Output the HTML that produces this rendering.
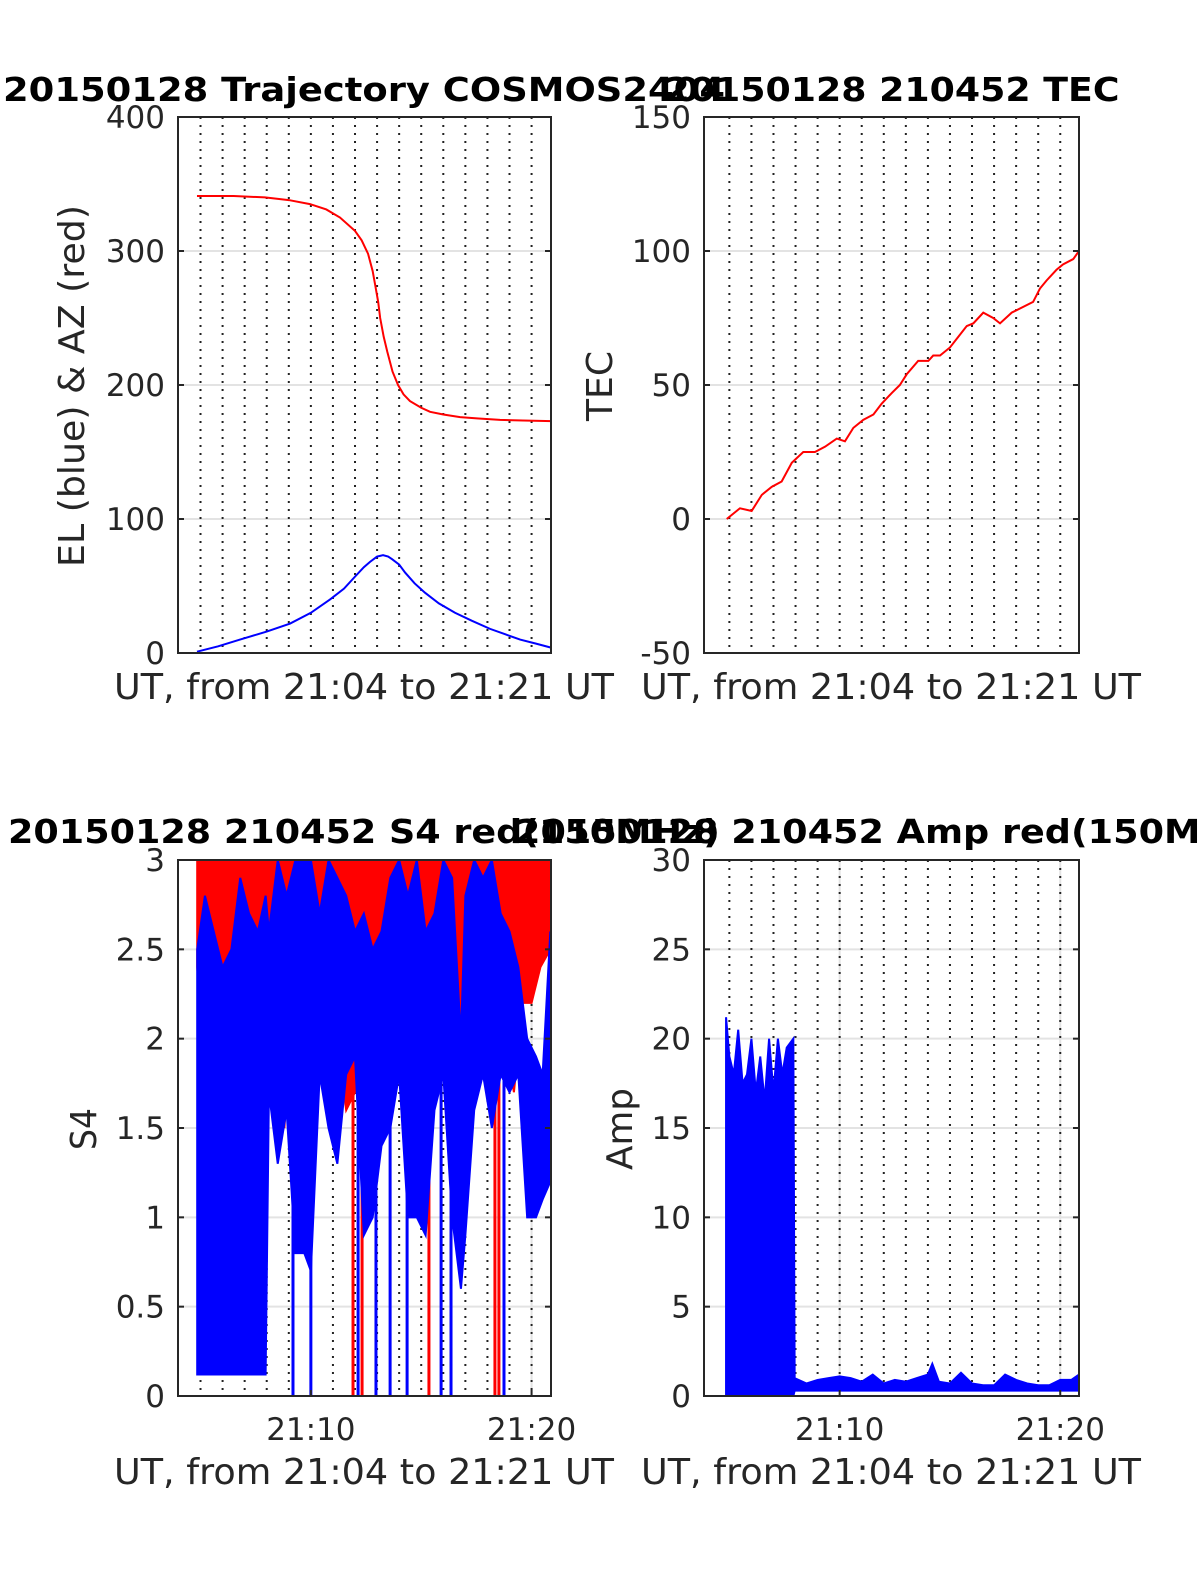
<!DOCTYPE html>
<html><head><meta charset="utf-8"><style>
html,body{margin:0;padding:0;background:#fff}
svg{display:block}
text{font-family:"DejaVu Sans","Liberation Sans",sans-serif;fill:#262626}
</style></head><body>
<svg id="fig" width="1200" height="1575" viewBox="0 0 1200 1575" xmlns="http://www.w3.org/2000/svg"></svg>
<script>
// ---- data (time in minutes after 21:00 UT) ----
const azT = [4.84,6.5,7.92,9.0,9.96,10.7,11.32,12.0,12.3,12.59,12.8,12.91,13.05,13.14,13.3,13.46,13.7,13.95,14.2,14.49,15.0,15.4,16.0,16.76,17.6,18.57,19.6,20.88];
const azV = [341,341,340,338,335,331,325,315,308,298,285,275,262,250,236,225,210,200,193,188,183,180,178,176,175,174,173.5,173];
const elT = [4.84,5.8,6.79,8.0,9.06,10.0,10.87,11.5,12.0,12.4,12.68,13.0,13.27,13.5,13.68,14.0,14.27,14.7,15.17,15.8,16.53,17.3,18.12,18.8,19.48,20.2,20.88];
const elV = [1,5,10,16,22,30,40,48,57,64,68,72,73,72,70,66,60,52,45,37,30,24,18,14,10,7,4];
const tecT = [4.88,5.18,5.48,6.01,6.47,6.92,7.37,7.83,8.35,8.88,9.34,9.87,10.24,10.62,11.07,11.53,11.9,12.36,12.73,13.04,13.56,14.02,14.24,14.55,15.0,15.38,15.76,16.06,16.51,16.96,17.27,17.8,18.77,19.08,19.38,19.83,20.13,20.59,20.85];
const tecV = [0,2,4,3,9,12,14,21,25,25,27,30,29,34,37,39,43,47,50,54,59,59,61,61,64,68,72,73,77,75,73,77,81,86,89,93,95,97,100];
const s4BlueT  = [4.85,5.2,5.6,6.0,6.4,6.8,7.2,7.6,7.95,8.1,8.5,8.9,9.3,9.7,10.0,10.4,10.8,11.2,11.6,12.0,12.4,12.8,13.2,13.6,14.0,14.4,14.8,15.2,15.6,16.0,16.4,16.8,17.0,17.4,17.8,18.2,18.6,19.0,19.4,19.8,20.2,20.5,20.85];
const s4BlueLo = [0.12,0.12,0.12,0.12,0.12,0.12,0.12,0.12,0.12,1.7,1.3,1.6,0.8,0.8,0.7,1.8,1.5,1.3,1.8,1.9,0.9,1.0,1.4,1.5,1.8,1.0,1.0,0.9,1.6,1.8,1.0,0.6,0.9,1.6,1.8,1.5,1.8,1.7,1.8,1.0,1.0,1.1,1.2];
const s4BlueHi = [2.5,2.8,2.6,2.4,2.5,2.9,2.7,2.6,2.8,2.6,3,2.8,3,3,3,2.7,3,2.9,2.8,2.6,2.7,2.5,2.6,2.9,3,2.8,3,2.6,2.7,3,2.9,2.0,2.8,3,2.9,3,2.7,2.6,2.4,2.0,1.9,1.8,2.6];
const s4RedT  = [4.85,5.2,5.6,6.0,6.4,6.8,7.2,7.6,8.0,8.4,8.8,9.2,9.6,10.0,10.4,10.8,11.2,11.6,12.0,12.4,12.8,13.2,13.6,14.0,14.4,14.8,15.2,15.6,16.0,16.4,16.8,17.2,17.6,18.0,18.4,18.8,19.2,19.6,20.0,20.4,20.85];
const s4RedLo = [2.4,1.8,2.0,2.3,2.4,2.0,2.3,2.0,1.6,1.9,1.5,2.2,2.5,2.1,2.0,2.3,2.0,1.6,1.7,2.2,2.1,2.4,2.0,2.2,1.6,2.5,2.2,2.6,2.5,2.4,2.0,2.5,2.0,2.4,2.2,2.0,1.7,2.2,2.2,2.4,2.5];
const s4RedHi = [3,3,3,3,3,3,3,3,3,3,3,3,3,3,3,3,3,3,3,3,3,3,3,3,3,3,3,3,3,3,3,3,3,3,3,3,3,3,3,3,3];
const s4BlueDropT = [9.19,10.0,12.14,12.95,13.59,14.36,15.9,16.35,18.75];
const s4RedDropT = [11.91,12.32,15.35,18.34,18.52];
const ampT  = [4.85,5.0,5.2,5.4,5.6,5.8,6.0,6.2,6.4,6.6,6.8,7.0,7.2,7.4,7.6,7.9,7.96,8.5,9.0,9.5,10.0,10.5,11.0,11.5,12.0,12.5,13.0,13.5,14.0,14.2,14.5,15.0,15.5,16.0,16.5,17.0,17.5,18.0,18.5,19.0,19.5,20.0,20.5,20.85];
const ampHi = [21.2,19,18,20.5,17.5,18,20,17,19,16.5,20,17,20,18,19.5,20,1.0,0.7,0.9,1.0,1.1,1.0,0.8,1.2,0.7,0.9,0.8,1.0,1.2,1.8,0.8,0.7,1.3,0.7,0.6,0.6,1.2,0.9,0.7,0.6,0.6,0.9,0.9,1.2];
const ampLo = [0,0,0,0,0,0,0,0,0,0,0,0,0,0,0,0,0.3,0.3,0.3,0.3,0.3,0.3,0.3,0.3,0.3,0.3,0.3,0.3,0.3,0.3,0.3,0.3,0.3,0.3,0.3,0.3,0.3,0.3,0.3,0.3,0.3,0.3,0.3,0.3];
const ticks1 = [0,100,200,300,400];
const ticks2 = [-50,0,50,100,150];
const ticks3 = [0,0.5,1,1.5,2,2.5,3];
const ticks3Labels = ["0","0.5","1","1.5","2","2.5","3"];
const ticks4 = [0,5,10,15,20,25,30];
const xTickT = [10,20];
const xTickLabels = ["21:10","21:20"];
const minuteT = [5,6,7,8,9,10,11,12,13,14,15,16,17,18,19,20];

const NS = "http://www.w3.org/2000/svg";
const svg = document.getElementById('fig');
function el(tag, attrs, parent){ const e=document.createElementNS(NS,tag); for(const k in attrs) e.setAttribute(k,attrs[k]); (parent||svg).appendChild(e); return e; }
function mkAxis(x0,x1,y0,y1,t0,t1,v0,v1){ return {x0,x1,y0,y1,X:t=>x0+(t-t0)/(t1-t0)*(x1-x0),Y:v=>y1-(v-v0)/(v1-v0)*(y1-y0)}; }

function frame(ax, name, yt, ylabs, majorX){
  const g = el('g',{});
  
  
  yt.forEach((v,i)=>{
    const y=ax.Y(v);
    const gl=el('line',{x1:ax.x0,x2:ax.x1,y1:y,y2:y,stroke:'#e3e3e3','stroke-width':2},g);
    
    
    const tl=el('text',{x:ax.x0-13,y:y+11,'text-anchor':'end','font-size':31},g);
    tl.textContent=ylabs[i];
    
    
  });
  if(majorX){ xTickT.forEach(t=>{ const x=ax.X(t); const gl=el('line',{x1:x,x2:x,y1:ax.y0,y2:ax.y1,stroke:'#e3e3e3','stroke-width':2},g);
    
     }); }
  minuteT.forEach(t=>{ const x=ax.X(t); const dl=el('line',{x1:x,x2:x,y1:ax.y0,y2:ax.y1,stroke:'#222','stroke-width':2,'stroke-dasharray':'2 6'},g);
    
     });
  return g;
}
function box(ax, yt, majorX){
  const g=el('g',{});
  
  
  el('rect',{x:ax.x0,y:ax.y0,width:ax.x1-ax.x0,height:ax.y1-ax.y0,fill:'none',stroke:'#262626','stroke-width':2},g);
  yt.forEach(v=>{ const y=ax.Y(v); el('line',{x1:ax.x0,x2:ax.x0+6,y1:y,y2:y,stroke:'#262626','stroke-width':2},g); el('line',{x1:ax.x1-6,x2:ax.x1,y1:y,y2:y,stroke:'#262626','stroke-width':2},g); });
  if(majorX) xTickT.forEach((t,i)=>{ const x=ax.X(t); el('line',{x1:x,x2:x,y1:ax.y1-6,y2:ax.y1,stroke:'#262626','stroke-width':2},g);
    const tl=el('text',{x:x,y:ax.y1+44,'text-anchor':'middle','font-size':31},g); tl.textContent=xTickLabels[i];
    
     });
}
function line(ax, T, V, color, name, clip){
  const p=el('polyline',{points:T.map((t,i)=>ax.X(t)+','+ax.Y(V[i])).join(' '),fill:'none',stroke:color,'stroke-width':2,'clip-path':clip||''});
  
  
}
function band(ax, T, Lo, Hi, color, name, clip){
  const pts=T.map((t,i)=>ax.X(t)+','+ax.Y(Hi[i])).concat(T.slice().reverse().map((t,j)=>{const i=T.length-1-j; return ax.X(t)+','+ax.Y(Lo[i]);}));
  const p=el('polygon',{points:pts.join(' '),fill:color,stroke:color,'stroke-width':2,'clip-path':clip||''});
  
  
}
function drops(ax, T, color, name, top){
  T.forEach(t=>{ const x=ax.X(t); const l=el('line',{x1:x,x2:x,y1:ax.Y(top),y2:ax.Y(0),stroke:color,'stroke-width':3});
    
     });
}
function label(txt,x,y,size,opts){
  const t=el('text',Object.assign({x:x,y:y,'font-size':size,'text-anchor':'middle'},opts||{})); t.textContent=txt; return t;
}

const a1=mkAxis(178,551,117,653,3.98,20.88,0,400);
const a2=mkAxis(704,1079,117,653,3.85,20.85,-50,150);
const a3=mkAxis(178,551,860,1396,3.98,20.88,0,3);
const a4=mkAxis(704,1079,860,1396,3.85,20.85,0,30);

const defs=el('defs',{});
[a3,a4].forEach((a,i)=>{ const c=el('clipPath',{id:'clip'+(i+3)},defs); el('rect',{x:a.x0,y:a.y0,width:a.x1-a.x0,height:a.y1-a.y0},c); });

frame(a1,'trajectory-grid',ticks1,ticks1.map(String),false);
line(a1,azT,azV,'#ff0000','azimuth-line');
line(a1,elT,elV,'#0000ff','elevation-line');
box(a1,ticks1,false);

frame(a2,'tec-grid',ticks2,ticks2.map(String),false);
line(a2,tecT,tecV,'#ff0000','tec-line');
box(a2,ticks2,false);

frame(a3,'s4-grid',ticks3,ticks3Labels,true);
band(a3,s4RedT,s4RedLo,s4RedHi,'#ff0000','s4-red-series','url(#clip3)');
drops(a3,s4RedDropT,'#ff0000','s4-red-drop',2.2);
band(a3,s4BlueT,s4BlueLo,s4BlueHi,'#0000ff','s4-blue-series','url(#clip3)');
drops(a3,s4BlueDropT,'#0000ff','s4-blue-drop',1.8);
box(a3,ticks3,true);

frame(a4,'amp-grid',ticks4,ticks4.map(String),true);
band(a4,ampT,ampLo,ampHi,'#0000ff','amp-blue-series','url(#clip4)');
box(a4,ticks4,true);

const tt=[["20150128 Trajectory COSMOS2404",364,101,722,'title-trajectory'],["20150128 210452 TEC",892,101,455,'title-tec'],["20150128 210452 S4 red(150MHz)",364,843,712,'title-s4'],["20150128 210452 Amp red(150MHz)",892,843,754,'title-amp']];
tt.forEach(a=>{ const t=label(a[0],a[1],a[2],33,{'font-weight':'bold',textLength:a[3],lengthAdjust:'spacingAndGlyphs',style:'fill:#000'});
  
   });
const xl=[[364,699],[891,699],[364,1484],[891,1484]];
xl.forEach(p=>{ const t=label('UT, from 21:04 to 21:21 UT',p[0],p[1],36,{textLength:500,lengthAdjust:'spacingAndGlyphs'});
  
   });
const yl=[['EL (blue) & AZ (red)',84,386,362],['TEC',612,386,70],['S4',96,1129,42],['Amp',632,1129,82]];
yl.forEach(p=>{ const t=label(p[0],p[1],p[2],36,{textLength:p[3],lengthAdjust:'spacingAndGlyphs',transform:'rotate(-90 '+p[1]+' '+p[2]+')'});
  
   });
</script>
</body></html>
